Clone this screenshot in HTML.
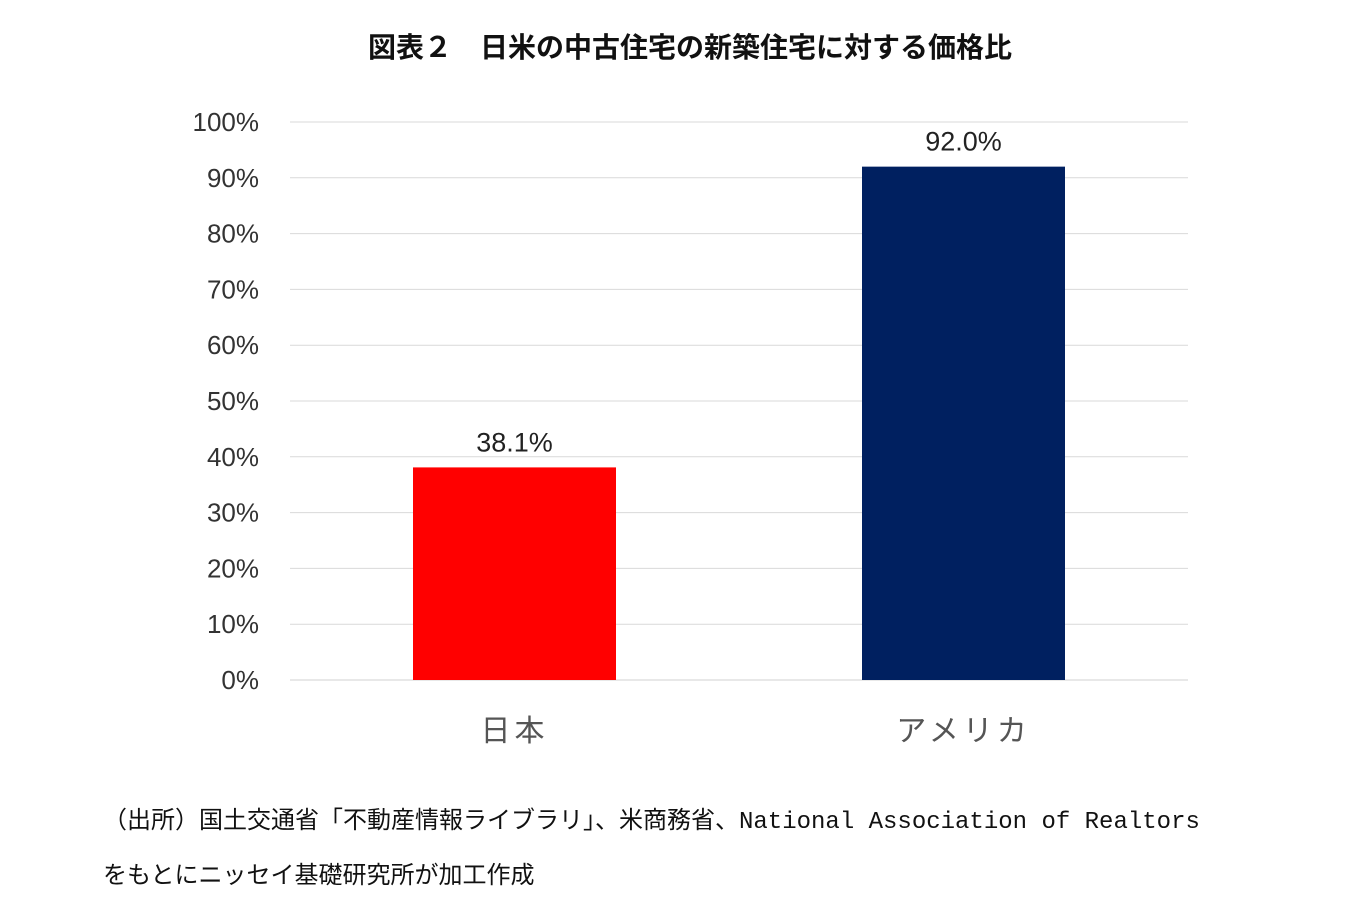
<!DOCTYPE html>
<html><head><meta charset="utf-8"><style>
body{margin:0;background:#fff;width:1372px;height:921px;overflow:hidden;font-family:"Liberation Sans","Noto Sans CJK JP",sans-serif}
.t{position:absolute;white-space:nowrap}
</style></head><body>
<div class="t" style="left:0;width:1380px;text-align:center;top:26px;font-size:28px;font-weight:bold;color:#111;font-family:'Noto Sans CJK JP',sans-serif">図表２　日米の中古住宅の新築住宅に対する価格比</div>
<svg id="c" width="1372" height="921" style="position:absolute;left:0;top:0"></svg>
<div class="t" style="left:103px;top:800px;font-size:24px;color:#111;font-family:'Liberation Mono','Noto Sans CJK JP',monospace">（出所）国土交通省「不動産情報ライブラリ」、米商務省、National Association of Realtors</div>
<div class="t" style="left:103px;top:855px;font-size:24px;color:#111;font-family:'Liberation Mono','Noto Sans CJK JP',monospace">をもとにニッセイ基礎研究所が加工作成</div>
<script>
const categories=["日本","アメリカ"];
const values=[38.1,92.0];
const labels=["38.1%","92.0%"];
const ticks=[0,10,20,30,40,50,60,70,80,90,100];
const colors=["#ff0000","#002060"];
const svg=document.getElementById('c');const NS="http://www.w3.org/2000/svg";
const x0=290,x1=1188,y0=680,y1=122;
const y=v=>y0-(v/100)*(y0-y1);
const band=(x1-x0)/categories.length,bw=203;
function mk(t,a,txt){const e=document.createElementNS(NS,t);for(const k in a)e.setAttribute(k,a[k]);if(txt!=null)e.textContent=txt;svg.appendChild(e);return e;}
ticks.forEach(t=>{
const l=mk('line',{x1:x0,x2:x1,y1:y(t),y2:y(t),stroke:t===0?'#d0d0d0':'#d9d9d9','stroke-width':1});


const tx=mk('text',{x:259,y:y(t)+9,'text-anchor':'end','font-size':26,fill:'#333','font-family':'Liberation Sans,sans-serif'},t+'%');


});
categories.forEach((c,i)=>{
const cx=x0+band*(i+0.5);
const r=mk('rect',{x:cx-bw/2,y:y(values[i]),width:bw,height:y0-y(values[i]),fill:colors[i]});


const v=mk('text',{x:cx,y:y(values[i])-16,'text-anchor':'middle','font-size':27,fill:'#222','font-family':'Liberation Sans,sans-serif'},labels[i]);


const cl=mk('text',{x:cx,y:741,'text-anchor':'middle','font-size':30,fill:'#555','letter-spacing':4,'font-family':'Noto Sans CJK JP,sans-serif'},c);


});
</script>
</body></html>
